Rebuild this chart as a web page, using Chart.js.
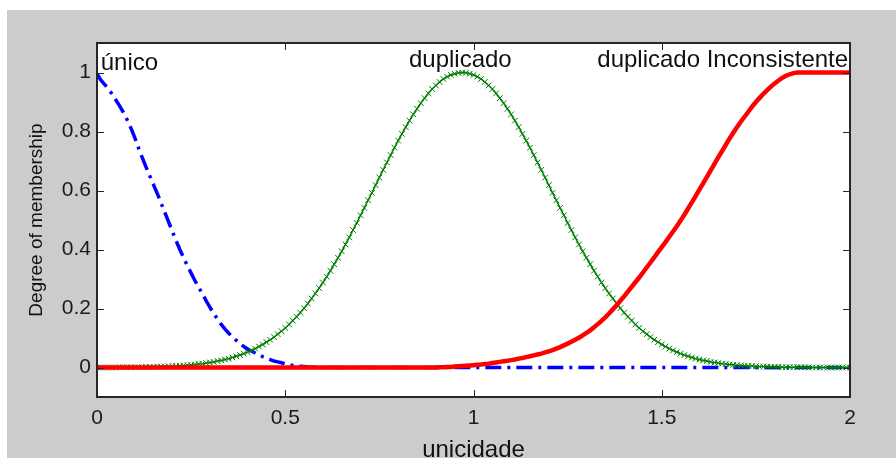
<!DOCTYPE html>
<html>
<head>
<meta charset="utf-8">
<script src="https://cdn.jsdelivr.net/npm/chart.js@4/dist/chart.umd.min.js"></script>
<style>
  html, body { margin: 0; padding: 0; background: #ffffff; }
  #wrap { width: 896px; height: 458px; }
</style>
</head>
<body>
<div id="wrap"><canvas id="c" width="896" height="458"></canvas></div>
<script>
// ---------- data ----------
const xSamples = [
  0,0.01,0.02,0.03,0.04,0.05,0.06,0.07,0.08,0.09,
  0.1,0.11,0.12,0.13,0.14,0.15,0.16,0.17,0.18,0.19,
  0.2,0.21,0.22,0.23,0.24,0.25,0.26,0.27,0.28,0.29,
  0.3,0.31,0.32,0.33,0.34,0.35,0.36,0.37,0.38,0.39,
  0.4,0.41,0.42,0.43,0.44,0.45,0.46,0.47,0.48,0.49,
  0.5,0.51,0.52,0.53,0.54,0.55,0.56,0.57,0.58,0.59,
  0.6,0.61,0.62,0.63,0.64,0.65,0.66,0.67,0.68,0.69,
  0.7,0.71,0.72,0.73,0.74,0.75,0.76,0.77,0.78,0.79,
  0.8,0.81,0.82,0.83,0.84,0.85,0.86,0.87,0.88,0.89,
  0.9,0.91,0.92,0.93,0.94,0.95,0.96,0.97,0.98,0.99,
  1,1.01,1.02,1.03,1.04,1.05,1.06,1.07,1.08,1.09,
  1.1,1.11,1.12,1.13,1.14,1.15,1.16,1.17,1.18,1.19,
  1.2,1.21,1.22,1.23,1.24,1.25,1.26,1.27,1.28,1.29,
  1.3,1.31,1.32,1.33,1.34,1.35,1.36,1.37,1.38,1.39,
  1.4,1.41,1.42,1.43,1.44,1.45,1.46,1.47,1.48,1.49,
  1.5,1.51,1.52,1.53,1.54,1.55,1.56,1.57,1.58,1.59,
  1.6,1.61,1.62,1.63,1.64,1.65,1.66,1.67,1.68,1.69,
  1.7,1.71,1.72,1.73,1.74,1.75,1.76,1.77,1.78,1.79,
  1.8,1.81,1.82,1.83,1.84,1.85,1.86,1.87,1.88,1.89,
  1.9,1.91,1.92,1.93,1.94,1.95,1.96,1.97,1.98,1.99,
  2
];

const unico = [
  0.995,0.975,0.960,0.945,0.927,0.907,0.887,0.865,0.840,0.812,
  0.780,0.745,0.712,0.680,0.650,0.620,0.590,0.558,0.526,0.494,
  0.462,0.430,0.400,0.372,0.345,0.320,0.295,0.272,0.250,0.226,
  0.204,0.183,0.164,0.146,0.130,0.116,0.103,0.092,0.080,0.071,
  0.063,0.056,0.049,0.043,0.037,0.032,0.027,0.022,0.019,0.016,
  0.012,0.009,0.007,0.005,0.004,0.003,0.002,0.001,0.001,0,
  0,0,0,0,0,0,0,0,0,0,
  0,0,0,0,0,0,0,0,0,0,
  0,0,0,0,0,0,0,0,0,0,
  0,0,0,0,0,0,0,0,0,0,
  0,0,0,0,0,0,0,0,0,0,
  0,0,0,0,0,0,0,0,0,0,
  0,0,0,0,0,0,0,0,0,0,
  0,0,0,0,0,0,0,0,0,0,
  0,0,0,0,0,0,0,0,0,0,
  0,0,0,0,0,0,0,0,0,0,
  0,0,0,0,0,0,0,0,0,0,
  0,0,0,0,0,0,0,0,0,0,
  0,0,0,0,0,0,0,0,0,0,
  0,0,0,0,0,0,0,0,0,0,
  0
];

const duplicado = [
  0,0,0,0,0,0,0.001,0.001,0.001,0.001,
  0.001,0.001,0.001,0.002,0.002,0.002,0.003,0.003,0.003,0.004,
  0.005,0.005,0.006,0.007,0.008,0.009,0.010,0.012,0.013,0.015,
  0.017,0.019,0.022,0.024,0.027,0.030,0.034,0.038,0.042,0.047,
  0.052,0.058,0.064,0.071,0.078,0.086,0.094,0.103,0.113,0.123,
  0.134,0.146,0.159,0.172,0.186,0.201,0.217,0.234,0.251,0.269,
  0.288,0.308,0.328,0.350,0.372,0.394,0.417,0.441,0.466,0.490,
  0.516,0.541,0.567,0.592,0.618,0.644,0.670,0.695,0.720,0.745,
  0.769,0.792,0.815,0.837,0.858,0.877,0.896,0.913,0.929,0.944,
  0.956,0.968,0.978,0.986,0.992,0.996,0.999,1.000,0.999,0.996,
  0.992,0.986,0.978,0.968,0.956,0.944,0.929,0.913,0.896,0.877,
  0.858,0.837,0.815,0.792,0.769,0.745,0.720,0.695,0.670,0.644,
  0.618,0.592,0.567,0.541,0.516,0.490,0.466,0.441,0.417,0.394,
  0.372,0.350,0.328,0.308,0.288,0.269,0.251,0.234,0.217,0.201,
  0.186,0.172,0.159,0.146,0.134,0.123,0.113,0.103,0.094,0.086,
  0.078,0.071,0.064,0.058,0.052,0.047,0.042,0.038,0.034,0.030,
  0.027,0.024,0.022,0.019,0.017,0.015,0.013,0.012,0.010,0.009,
  0.008,0.007,0.006,0.005,0.005,0.004,0.003,0.003,0.003,0.002,
  0.002,0.002,0.001,0.001,0.001,0.001,0.001,0.001,0.001,0,
  0,0,0,0,0,0,0,0,0,0,
  0
];

const duplicadoInconsistente = [
  0,0,0,0,0,0,0,0,0,0,
  0,0,0,0,0,0,0,0,0,0,
  0,0,0,0,0,0,0,0,0,0,
  0,0,0,0,0,0,0,0,0,0,
  0,0,0,0,0,0,0,0,0,0,
  0,0,0,0,0,0,0,0,0,0,
  0,0,0,0,0,0,0,0,0,0,
  0,0,0,0,0,0,0,0,0,0,
  0,0,0,0,0,0,0,0,0,0,
  0,0.001,0.001,0.002,0.002,0.003,0.004,0.005,0.006,0.007,
  0.008,0.009,0.010,0.012,0.013,0.015,0.017,0.019,0.021,0.023,
  0.025,0.027,0.030,0.032,0.035,0.038,0.041,0.044,0.047,0.051,
  0.055,0.059,0.064,0.069,0.075,0.081,0.087,0.094,0.101,0.109,
  0.117,0.126,0.136,0.147,0.158,0.170,0.183,0.197,0.211,0.226,
  0.241,0.257,0.273,0.289,0.305,0.322,0.339,0.356,0.373,0.391,
  0.408,0.425,0.443,0.461,0.479,0.498,0.518,0.539,0.560,0.581,
  0.603,0.624,0.646,0.668,0.690,0.712,0.733,0.755,0.776,0.796,
  0.815,0.833,0.850,0.867,0.884,0.900,0.914,0.928,0.940,0.952,
  0.963,0.973,0.982,0.989,0.994,0.998,1,1,1,1,
  1,1,1,1,1,1,1,1,1,1,
  1
];

const seriesNames = ['único', 'duplicado', 'duplicado Inconsistente'];
const xTickValues = [0, 0.5, 1, 1.5, 2];
const xTickLabels = ['0', '0.5', '1', '1.5', '2'];
const yTickValues = [0, 0.2, 0.4, 0.6, 0.8, 1];
const yTickLabels = ['0', '0.2', '0.4', '0.6', '0.8', '1'];
const xAxisTitle = 'unicidade';
const yAxisTitle = 'Degree of membership';

// ---------- chart ----------
const FONT = "'Liberation Sans', Arial, sans-serif";
const toPoints = ys => xSamples.map((x, i) => ({ x: x, y: ys[i] }));

const matlabPlugin = {
  id: 'matlabLook',
  beforeDraw(chart) {
    const { ctx, chartArea: a } = chart;
    ctx.save();
    ctx.fillStyle = '#ffffff';
    ctx.fillRect(0, 0, chart.width, chart.height);
    ctx.fillStyle = '#cccccc';
    ctx.fillRect(7, 10, chart.width - 7, chart.height - 10);
    ctx.fillStyle = '#ffffff';
    ctx.fillRect(a.left, a.top, a.right - a.left, a.bottom - a.top);
    ctx.restore();
  },
  afterDraw(chart) {
    const { ctx, chartArea: a, scales: { x, y } } = chart;
    ctx.save();
    // inward ticks on all four sides
    ctx.strokeStyle = '#262626';
    ctx.lineWidth = 1;
    const TL = 7;
    ctx.beginPath();
    xTickValues.forEach(v => {
      const px = Math.round(x.getPixelForValue(v)) + 0.5;
      ctx.moveTo(px, a.bottom); ctx.lineTo(px, a.bottom - TL);
      ctx.moveTo(px, a.top); ctx.lineTo(px, a.top + TL);
    });
    yTickValues.forEach(v => {
      const py = Math.round(y.getPixelForValue(v)) + 0.5;
      ctx.moveTo(a.left, py); ctx.lineTo(a.left + TL, py);
      ctx.moveTo(a.right, py); ctx.lineTo(a.right - TL, py);
    });
    ctx.stroke();
    // axes box
    ctx.lineWidth = 2;
    ctx.strokeRect(a.left, a.top, a.right - a.left, a.bottom - a.top);
    // membership function labels
    const anchors = [
      { x: 0.01, y: 1.01, align: 'left' },
      { x: 0.965, y: 1.02, align: 'center' },
      { x: 1.995, y: 1.017, align: 'right' }
    ];
    ctx.fillStyle = '#111111';
    ctx.font = '24px ' + FONT;
    ctx.textBaseline = 'alphabetic';
    seriesNames.forEach((name, i) => {
      ctx.textAlign = anchors[i].align;
      ctx.fillText(name, x.getPixelForValue(anchors[i].x), y.getPixelForValue(anchors[i].y));
    });
    ctx.restore();
  }
};

new Chart(document.getElementById('c'), {
  type: 'line',
  data: {
    datasets: [
      {
        label: seriesNames[0],
        data: toPoints(unico),
        borderColor: '#0000ff',
        borderWidth: 3.5,
        borderDash: [16, 6, 3, 6],
        pointRadius: 0,
        fill: false,
        tension: 0,
        order: 3
      },
      {
        label: seriesNames[1],
        data: toPoints(duplicado),
        borderColor: '#008000',
        borderWidth: 1.5,
        pointStyle: 'crossRot',
        pointRadius: 4,
        pointBorderColor: '#008000',
        pointBorderWidth: 1,
        fill: false,
        tension: 0,
        order: 2
      },
      {
        label: seriesNames[2],
        data: toPoints(duplicadoInconsistente),
        borderColor: '#ff0000',
        borderWidth: 4.5,
        pointRadius: 0,
        fill: false,
        tension: 0,
        order: 1
      }
    ]
  },
  options: {
    responsive: false,
    animation: false,
    devicePixelRatio: 1,
    layout: { padding: { top: 43, right: 46, left: 0, bottom: 0 } },
    plugins: { legend: { display: false }, tooltip: { enabled: false } },
    scales: {
      x: {
        type: 'linear',
        min: 0, max: 2,
        afterBuildTicks: s => { s.ticks = xTickValues.map(v => ({ value: v })); },
        afterFit: s => { s.height = 61; },
        grid: { display: false, drawTicks: false },
        border: { display: false },
        ticks: {
          padding: 9, autoSkip: false, maxRotation: 0, minRotation: 0,
          color: '#1a1a1a',
          font: { family: FONT, size: 21 },
          callback: (v, i) => xTickLabels[i]
        },
        title: {
          display: true, text: xAxisTitle, color: '#111111',
          font: { family: FONT, size: 24, lineHeight: 1 },
          padding: { top: 0, bottom: -4 }
        }
      },
      y: {
        type: 'linear',
        min: -0.1, max: 1.1,
        afterBuildTicks: s => { s.ticks = yTickValues.map(v => ({ value: v })); },
        afterFit: s => { s.width = 97; },
        grid: { display: false, drawTicks: false },
        border: { display: false },
        ticks: {
          padding: 6, autoSkip: false,
          color: '#1a1a1a',
          font: { family: FONT, size: 21 },
          callback: (v, i) => yTickLabels[i]
        },
        title: {
          display: true, text: yAxisTitle, color: '#111111',
          font: { family: FONT, size: 19, lineHeight: 1 },
          padding: { top: 27.5, bottom: 0 }
        }
      }
    }
  },
  plugins: [matlabPlugin]
});
</script>
</body>
</html>
